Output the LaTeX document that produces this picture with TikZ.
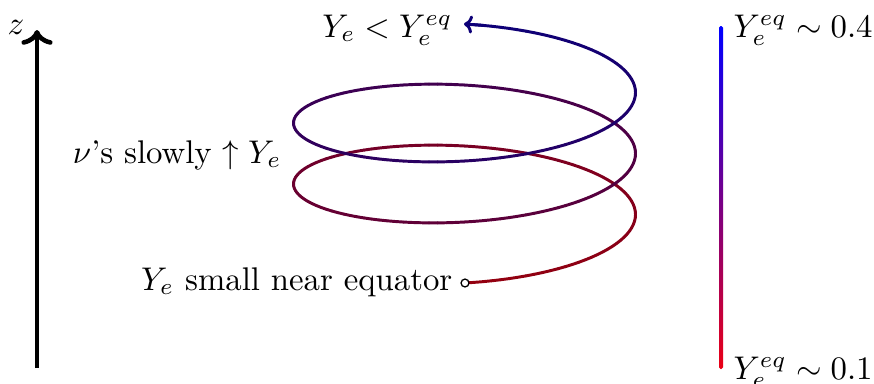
\documentclass[tikz,border=0pt]{standalone}
\usetikzlibrary{arrows.meta}
\definecolor{spstart}{rgb}{0.58,0.0,0.06}
\definecolor{spend}{rgb}{0.05,0.0,0.47}
\tikzset{
  lbl/.style={inner sep=0pt},
  spseg/.style={line width=0.9pt, line cap=round},
}
\begin{document}
\begin{tikzpicture}[x=0.305pt,y=-0.305pt]
\useasboundingbox (0,0) rectangle (874,383);
% vertical axis
\coordinate (zb) at (37,368);
\coordinate (zt) at (37,30);
\draw[line width=1.4pt,-{To[length=4.5pt,width=9.5pt]}] (zb) -- (zt);
\node[lbl] (zl) at (16,27) {$z$};
% colour bar
\shade[bottom color=red!92!blue, top color=blue, rounded corners=0.5pt] (719,26) rectangle (723,369);
\node[lbl,anchor=base west] (top) at (733,37) {$Y_e^{eq}\sim 0.4$};
\node[lbl,anchor=base west] (bot) at (733,379) {$Y_e^{eq}\sim 0.1$};
% spiral
\foreach \i in {0,...,298} {
  \pgfmathsetmacro\ta{\i*3}
  \pgfmathsetmacro\tb{(\i+1)*3}
  \pgfmathsetmacro\p{\i/299*100}
  \colorlet{sc}{spend!\p!spstart}
  \draw[spseg,sc] ({464.5+171*sin(\ta)},{229.75-0.16944*\ta+53.25*cos(\ta)}) -- ({464.5+171*sin(\tb)},{229.75-0.16944*\tb+53.25*cos(\tb)});
}
\coordinate (sa) at ({464.5+171*sin(894)},{229.75-0.16944*894+53.25*cos(894)});
\coordinate (se) at (464,{229.75-0.16944*900-53.25});
\draw[spseg,spend,-{To[length=2.6pt,width=5.5pt]}] (sa) -- (se);
\node[circle,draw,fill=white,inner sep=0pt,minimum size=2.4pt,line width=0.4pt] (st) at (465,283) {};
% labels
\node[lbl,anchor=base east] (lt) at (453,37) {$Y_e<Y_e^{eq}$};
\node[lbl,anchor=base east] (lm) at (282,163) {$\nu$'s slowly $\uparrow Y_e$};
\node[lbl,anchor=base east] (lb) at (453,290) {$Y_e$ small near equator};
\end{tikzpicture}
\end{document}
